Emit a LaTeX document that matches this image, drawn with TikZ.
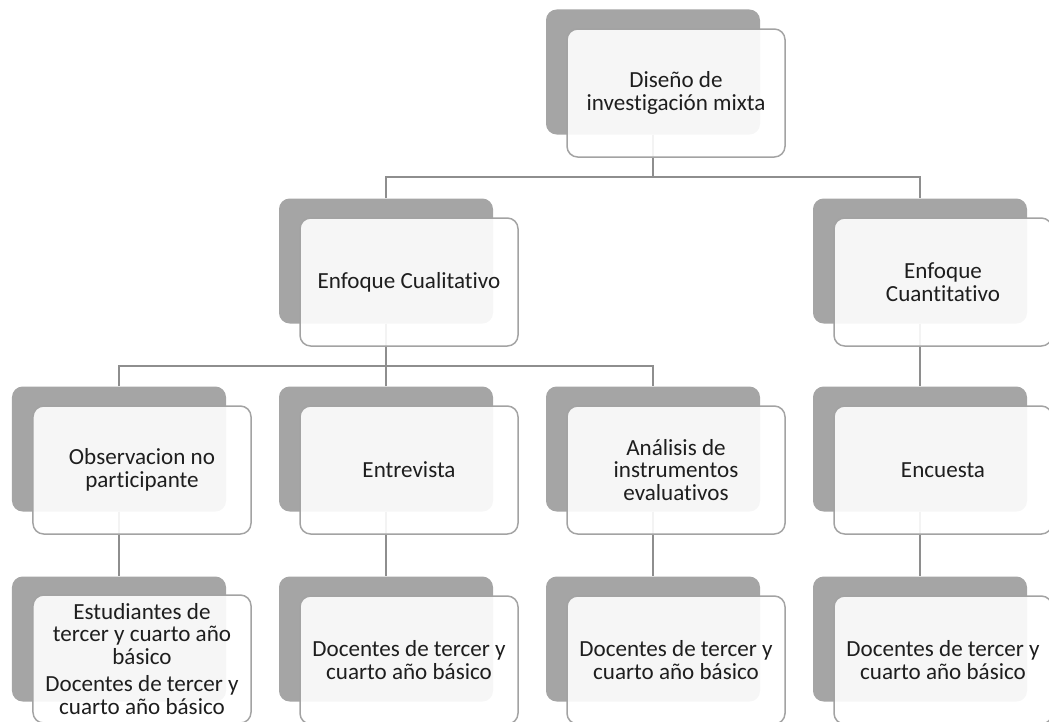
\documentclass[tikz,border=0pt]{standalone}
\usepackage{fontspec}
\setmainfont{Carlito}[Ligatures={NoCommon}]
\usepackage{tikz}
\usetikzlibrary{calc}
\definecolor{backgray}{HTML}{A5A5A5}
\definecolor{edgegray}{HTML}{A3A3A3}
\definecolor{linkgray}{HTML}{8E8E8E}
\definecolor{textgray}{HTML}{1E1E1E}
\tikzset{
	backbox/.style={rectangle, rounded corners=0.32cm, fill=backgray, minimum width=6.42cm, minimum height=3.75cm, inner sep=0pt},
	frontbox/.style={rectangle, rounded corners=0.32cm, draw=edgegray, line width=0.045cm, fill=white, fill opacity=0.9, text opacity=1, text=textgray, minimum width=6.54cm, minimum height=3.84cm, inner sep=0pt, align=center, font=\fontsize{19.7}{19.3}\selectfont},
	link/.style={draw=linkgray, line width=0.045cm}
}

\begin{document}
\begin{tikzpicture}[x=0.03cm, y=-0.03cm]
		%%%%% START %%%%%
		\useasboundingbox (0, 0) rectangle (1049, 721);
		\clip (0, 0) rectangle (1049, 721);
		
		% back boxes
		\node[backbox] (diseno-b) at (653, 72) {};
		\node[backbox] (cual-b) at (386, 261) {};
		\node[backbox] (cuant-b) at (920, 261) {};
		\node[backbox] (obs-b) at (119, 449) {};
		\node[backbox] (entr-b) at (386, 449) {};
		\node[backbox] (anal-b) at (653, 449) {};
		\node[backbox] (encu-b) at (920, 449) {};
		\node[backbox] (est-b) at (119, 639) {};
		\node[backbox] (doc1-b) at (386, 639) {};
		\node[backbox] (doc2-b) at (653, 639) {};
		\node[backbox] (doc3-b) at (920, 639) {};
		
		% connectors
		\coordinate (top-join) at (653, 177);
		\coordinate (cual-join) at (386, 366);
		\draw[link] (diseno-b.south) -- (top-join);
		\draw[link] (cual-b.north) |- (top-join) -| (cuant-b.north);
		\draw[link] (cual-b.south) -- (cual-join);
		\draw[link] (obs-b.north) |- (cual-join) -| (anal-b.north);
		\draw[link] (entr-b.north) -- (cual-join);
		\draw[link] (cuant-b.south) -- (encu-b.north);
		\draw[link] (obs-b.south) -- (est-b.north);
		\draw[link] (entr-b.south) -- (doc1-b.north);
		\draw[link] (anal-b.south) -- (doc2-b.north);
		\draw[link] (encu-b.south) -- (doc3-b.north);
		
		% front boxes
		\node[frontbox] (diseno) at (676, 93) {Diseño de\\investigación mixta};
		\node[frontbox] (cual) at (409, 282) {Enfoque Cualitativo};
		\node[frontbox] (cuant) at (943, 282) {Enfoque\\Cuantitativo};
		\node[frontbox] (obs) at (142, 470) {Observacion no\\participante};
		\node[frontbox] (entr) at (409, 470) {Entrevista};
		\node[frontbox] (anal) at (676, 470) {Análisis de\\instrumentos\\evaluativos};
		\node[frontbox] (encu) at (943, 470) {Encuesta};
		\node[frontbox] (est) at (142, 659) {Estudiantes de\\tercer y cuarto año\\básico\\[0.14cm]Docentes de tercer y\\cuarto año básico};
		\node[frontbox] (doc1) at (409, 660) {Docentes de tercer y\\cuarto año básico};
		\node[frontbox] (doc2) at (676, 660) {Docentes de tercer y\\cuarto año básico};
		\node[frontbox] (doc3) at (943, 660) {Docentes de tercer y\\cuarto año básico};
		
		%%%%% END %%%%%
	\end{tikzpicture}
\end{document}
